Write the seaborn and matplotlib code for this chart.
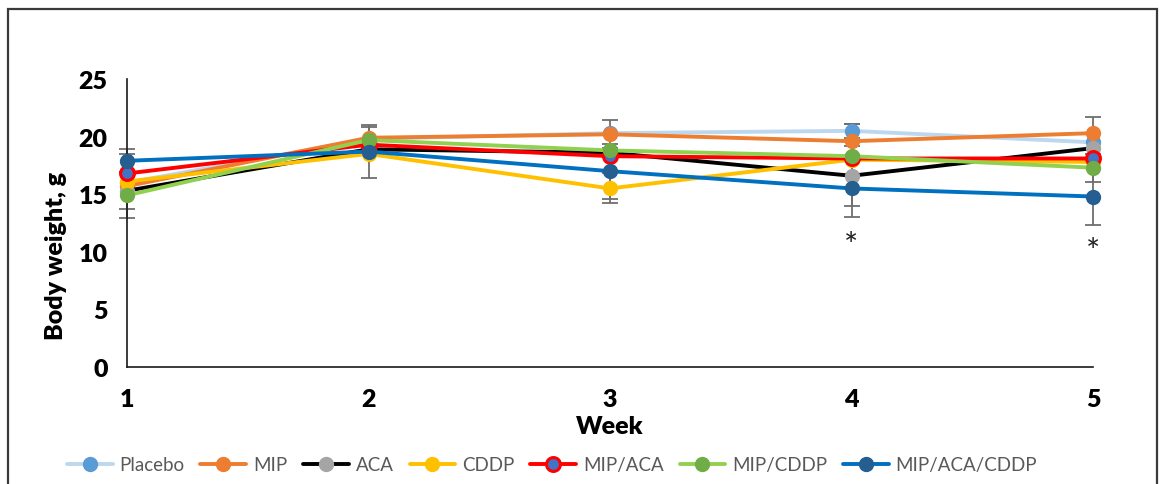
import numpy as np
import pandas as pd
import matplotlib
matplotlib.use("Agg")
import matplotlib.pyplot as plt
from matplotlib.patches import Rectangle
import seaborn as sns

# Mean body weight (g) per group over five weeks
weeks = [1, 2, 3, 4, 5]
groups = ["Placebo", "MIP", "ACA", "CDDP", "MIP/ACA", "MIP/CDDP", "MIP/ACA/CDDP"]

placebo = [16.0, 19.8, 20.3, 20.5, 19.5]
mip = [15.7, 19.9, 20.2, 19.6, 20.3]
aca = [15.3, 18.9, 18.6, 16.6, 19.0]
cddp = [16.1, 18.5, 15.5, 18.0, 17.8]
mip_aca = [16.8, 19.3, 18.3, 18.1, 18.1]
mip_cddp = [14.9, 19.7, 18.8, 18.3, 17.3]
mip_aca_cddp = [17.9, 18.7, 17.0, 15.5, 14.8]

# Standard deviations (0 = not shown)
sd_placebo = [0.0, 0.0, 0.0, 0.6, 0.0]
sd_mip = [0.0, 0.9, 1.2, 1.5, 1.4]
sd_aca = [0.0, 0.0, 0.0, 2.6, 0.0]
sd_cddp = [2.4, 0.0, 1.3, 0.0, 0.0]
sd_mip_aca = [0.0, 0.0, 0.0, 0.0, 0.0]
sd_mip_cddp = [2.0, 0.0, 0.0, 0.0, 1.2]
sd_mip_aca_cddp = [1.0, 2.3, 2.4, 2.5, 2.45]

# Weeks with a significant difference, and where the asterisk sits
star_weeks = [4, 5]
star_y = [10.5, 10.0]

means = [placebo, mip, aca, cddp, mip_aca, mip_cddp, mip_aca_cddp]
sds = [sd_placebo, sd_mip, sd_aca, sd_cddp, sd_mip_aca, sd_mip_cddp, sd_mip_aca_cddp]

line_colors = ["#BDD7EE", "#ED7D31", "#000000", "#FFC000", "#FF0000", "#92D050", "#0070C0"]
face_colors = ["#5B9BD5", "#ED7D31", "#A5A5A5", "#FFC000", "#4472C4", "#70AD47", "#255E91"]
edge_colors = ["#5B9BD5", "#ED7D31", "#A5A5A5", "#FFC000", "#FF0000", "#70AD47", "#255E91"]

rows = []
for g, m, s in zip(groups, means, sds):
    for w, v, e in zip(weeks, m, s):
        rows.append({"Week": w, "Weight": v, "SD": e, "Group": g})
df = pd.DataFrame(rows)

sns.set_theme(style="white")
plt.rcParams["font.family"] = ["Lato", "DejaVu Sans"]

fig = plt.figure(figsize=(11.63, 4.85), dpi=100)
ax = fig.add_axes([127 / 1163, 1 - 368 / 485, (1093 - 127) / 1163, (368 - 80) / 485])

# error bars drawn beneath the lines
for g in groups:
    sub = df[(df["Group"] == g) & (df["SD"] > 0)]
    if len(sub):
        ax.errorbar(sub["Week"], sub["Weight"], yerr=sub["SD"], fmt="none",
                    ecolor="#6E6E6E", elinewidth=1.3, capsize=6, capthick=1.3,
                    zorder=1, clip_on=False)

for i, (g, lc, fc, ec) in enumerate(zip(groups, line_colors, face_colors, edge_colors)):
    sub = df[df["Group"] == g]
    sns.lineplot(data=sub, x="Week", y="Weight", ax=ax, color=lc, linewidth=2.8,
                 marker="o", markersize=12, markerfacecolor=fc,
                 markeredgecolor=ec, markeredgewidth=2.2 if g == "MIP/ACA" else 1.0,
                 label=g, zorder=2 + i, clip_on=False, errorbar=None)

for w, y in zip(star_weeks, star_y):
    ax.text(w, y, "*", ha="center", va="center", fontsize=24, color="#222222")

ax.set_xlim(1, 5)
ax.set_ylim(0, 25)
ax.set_xticks(weeks)
ax.set_yticks([0, 5, 10, 15, 20, 25])
ax.tick_params(axis="both", length=0, labelsize=18, colors="#000000")
ax.tick_params(axis="x", pad=15)
ax.tick_params(axis="y", pad=14)
for lab in ax.get_xticklabels() + ax.get_yticklabels():
    lab.set_fontweight("heavy")

ax.set_xlabel("Week", fontsize=18, fontweight="heavy", color="#000000")
ax.set_ylabel("Body weight, g", fontsize=18, fontweight="heavy", color="#000000")
ax.yaxis.set_label_coords(-0.062, 0.39)
ax.xaxis.set_label_coords(0.5, -0.165)

for side in ["top", "right"]:
    ax.spines[side].set_visible(False)
for side in ["left", "bottom"]:
    ax.spines[side].set_color("#1a1a1a")
    ax.spines[side].set_linewidth(1.2)
ax.grid(False)

handles, labels = ax.get_legend_handles_labels()
ax.get_legend().remove()
for h in handles:
    h.set_markersize(10)
leg = fig.legend(handles, labels, loc="center", bbox_to_anchor=(552 / 1163, 1 - 466 / 485),
                 ncol=7, frameon=False, fontsize=13.5, handlelength=2.45,
                 handletextpad=0.35, columnspacing=0.85)
for t in leg.get_texts():
    t.set_color("#595959")

# outer chart frame
fig.patches.append(Rectangle((8 / 1163, -0.05), (1157 - 8) / 1163, 1 - 10 / 485 + 0.05,
                             transform=fig.transFigure, fill=False,
                             edgecolor="#3a3a3a", linewidth=1.6))

fig.savefig("out.png", dpi=100)
